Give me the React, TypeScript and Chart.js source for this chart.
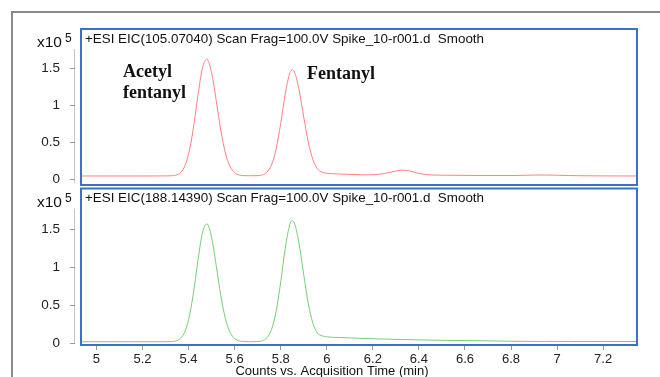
import React, { useEffect, useRef } from "react";
import { Chart, registerables } from "chart.js";
Chart.register(...registerables);

// Retention time (min)
const times = [
  4.93, 5.0, 5.1, 5.2, 5.3, 5.32, 5.34, 5.36, 5.38, 5.4, 5.42, 5.44, 5.46, 5.48, 5.5, 5.52,
  5.54, 5.56, 5.58, 5.6, 5.62, 5.64, 5.66, 5.68, 5.7, 5.72, 5.74, 5.76, 5.78, 5.8, 5.82, 5.84,
  5.85, 5.86, 5.88, 5.9, 5.92, 5.94, 5.96, 5.98, 6.0, 6.05, 6.1, 6.15, 6.2, 6.25, 6.3, 6.33,
  6.36, 6.4, 6.45, 6.5, 6.6, 6.7, 6.8, 6.9, 6.95, 7.0, 7.05, 7.1, 7.2, 7.35,
];

// EIC 105.07040 counts (x10^5)
const countsTop = [
  0.045, 0.045, 0.045, 0.045, 0.046, 0.047, 0.053, 0.078, 0.155, 0.339, 0.674, 1.117, 1.5, 1.622, 1.439, 1.066,
  0.663, 0.355, 0.174, 0.089, 0.058, 0.05, 0.048, 0.048, 0.05, 0.06, 0.096, 0.194, 0.407, 0.754, 1.158, 1.44,
  1.478, 1.447, 1.206, 0.842, 0.499, 0.265, 0.14, 0.097, 0.082, 0.072, 0.066, 0.061, 0.062, 0.078, 0.112, 0.124,
  0.113, 0.078, 0.06, 0.056, 0.053, 0.051, 0.051, 0.057, 0.058, 0.055, 0.051, 0.048, 0.046, 0.045,
];

// EIC 188.14390 counts (x10^5)
const countsBottom = [
  0.021, 0.021, 0.021, 0.021, 0.021, 0.022, 0.028, 0.052, 0.128, 0.308, 0.637, 1.071, 1.448, 1.567, 1.387, 1.021,
  0.626, 0.324, 0.146, 0.063, 0.032, 0.024, 0.021, 0.021, 0.023, 0.033, 0.072, 0.18, 0.416, 0.802, 1.252, 1.565,
  1.61, 1.573, 1.305, 0.901, 0.519, 0.262, 0.135, 0.098, 0.085, 0.077, 0.071, 0.065, 0.06, 0.056, 0.052, 0.05,
  0.048, 0.045, 0.042, 0.04, 0.036, 0.032, 0.027, 0.025, 0.025, 0.025, 0.024, 0.024, 0.024, 0.024,
];

const yTicks = [0, 0.5, 1, 1.5];
const xTicks = [5, 5.2, 5.4, 5.6, 5.8, 6, 6.2, 6.4, 6.6, 6.8, 7, 7.2];
const xTickLabels = ["5", "5.2", "5.4", "5.6", "5.8", "6", "6.2", "6.4", "6.6", "6.8", "7", "7.2"];

const titleTop = "+ESI EIC(105.07040) Scan Frag=100.0V Spike_10-r001.d  Smooth";
const titleBottom = "+ESI EIC(188.14390) Scan Frag=100.0V Spike_10-r001.d  Smooth";
const xAxisTitle = "Counts vs. Acquisition Time (min)";
const annotation1 = ["Acetyl", "fentanyl"];
const annotation2 = "Fentanyl";

const X_MIN = 4.933;
const X_MAX = 7.347;
const SANS = "'Liberation Sans', Arial, sans-serif";
const SERIF = "'Liberation Serif', 'Times New Roman', serif";

function panelPlugin(title: string, top: boolean) {
  return {
    id: "panel" + (top ? "Top" : "Bottom"),
    afterDraw(chart: any) {
      const { ctx, chartArea: a, scales } = chart;
      const y = scales.y;
      ctx.save();
      // y axis line + tick marks (offset from plot box)
      ctx.strokeStyle = "#c4c4c4";
      ctx.lineWidth = 1;
      ctx.beginPath();
      ctx.moveTo(74.5, a.top + 20);
      ctx.lineTo(74.5, a.bottom - 2);
      ctx.stroke();
      ctx.strokeStyle = "#9a9a9a";
      ctx.beginPath();
      for (const v of yTicks) {
        const py = Math.round(y.getPixelForValue(v)) + 0.5;
        ctx.moveTo(70, py);
        ctx.lineTo(75, py);
      }
      ctx.stroke();
      // blue box
      ctx.strokeStyle = "#3b6fcb";
      ctx.lineWidth = 2;
      ctx.strokeRect(a.left, a.top, a.right - a.left, a.bottom - a.top);
      // title
      ctx.fillStyle = "#111";
      ctx.textAlign = "left";
      ctx.textBaseline = "middle";
      ctx.font = "13.4px " + SANS;
      ctx.fillText(title, a.left + 4, a.top + 10);
      // x10^5
      ctx.font = "15.5px " + SANS;
      ctx.fillText("x10", 37, a.top + 14);
      ctx.font = "12px " + SANS;
      ctx.fillText("5", 65, a.top + 10);
      if (top) {
        ctx.font = "bold 18px " + SERIF;
        ctx.textBaseline = "alphabetic";
        ctx.fillText(annotation1[0], 123, 77);
        ctx.fillText(annotation1[1], 123, 98);
        ctx.fillText(annotation2, 307, 79);
      } else {
        ctx.font = "13px " + SANS;
        ctx.textAlign = "center";
        ctx.textBaseline = "middle";
        ctx.fillText(xAxisTitle, 332, 371);
      }
      ctx.restore();
    },
  };
}

function makeConfig(values: number[], color: string, title: string, top: boolean): any {
  return {
    type: "line",
    data: {
      datasets: [
        {
          data: times.map((t, i) => ({ x: t, y: values[i] })),
          borderColor: color,
          borderWidth: 1,
          pointRadius: 0,
          fill: false,
          cubicInterpolationMode: "monotone",
        },
      ],
    },
    options: {
      responsive: false,
      animation: false,
      devicePixelRatio: 1,
      layout: {
        padding: top
          ? { left: 0, right: 23, top: 29, bottom: 192 }
          : { left: 0, right: 23, top: 188.5, bottom: 0 },
      },
      plugins: { legend: { display: false }, tooltip: { enabled: false }, title: { display: false } },
      scales: {
        x: {
          type: "linear",
          min: X_MIN,
          max: X_MAX,
          display: !top,
          afterBuildTicks: (s: any) => {
            s.ticks = xTicks.map((v) => ({ value: v }));
          },
          afterFit: (s: any) => {
            s.height = top ? 0 : 32;
          },
          border: { display: false },
          grid: { display: true, drawOnChartArea: false, drawTicks: true, tickLength: 5, color: "#9a9a9a" },
          ticks: {
            padding: 2,
            color: "#222",
            font: { family: SANS, size: 13 },
            maxRotation: 0,
            autoSkip: false,
            callback: (v: number) => {
              const i = xTicks.findIndex((t) => Math.abs(t - v) < 1e-6);
              return i >= 0 ? xTickLabels[i] : "";
            },
          },
        },
        y: {
          type: "linear",
          min: top ? -0.077 : -0.022,
          max: top ? 2.031 : 2.032,
          afterBuildTicks: (s: any) => {
            s.ticks = yTicks.map((v) => ({ value: v }));
          },
          afterFit: (s: any) => {
            s.width = 81;
          },
          border: { display: false },
          grid: { display: false },
          ticks: {
            padding: 13,
            color: "#222",
            font: { family: SANS, size: 13.5 },
            callback: (v: number) => String(v),
          },
        },
      },
    },
    plugins: [panelPlugin(title, top)],
  };
}

export default function App() {
  const topRef = useRef<HTMLCanvasElement>(null);
  const botRef = useRef<HTMLCanvasElement>(null);
  useEffect(() => {
    const c1 = new Chart(topRef.current!, makeConfig(countsTop, "rgb(255,128,128)", titleTop, true));
    const c2 = new Chart(botRef.current!, makeConfig(countsBottom, "rgb(118,206,118)", titleBottom, false));
    return () => {
      c1.destroy();
      c2.destroy();
    };
  }, []);
  const cs: React.CSSProperties = { position: "absolute", left: 0, top: 0, width: 660, height: 377 };
  return (
    <div style={{ position: "absolute", left: 0, top: 0, width: 660, height: 377, background: "#fff", overflow: "hidden" }}>
      <div style={{ position: "absolute", left: 11, top: 11, width: 660, height: 400, borderLeft: "2px solid #8a8a8a", borderTop: "2px solid #8a8a8a" }} />
      <canvas ref={botRef} width={660} height={377} style={cs} />
      <canvas ref={topRef} width={660} height={377} style={cs} />
    </div>
  );
}
